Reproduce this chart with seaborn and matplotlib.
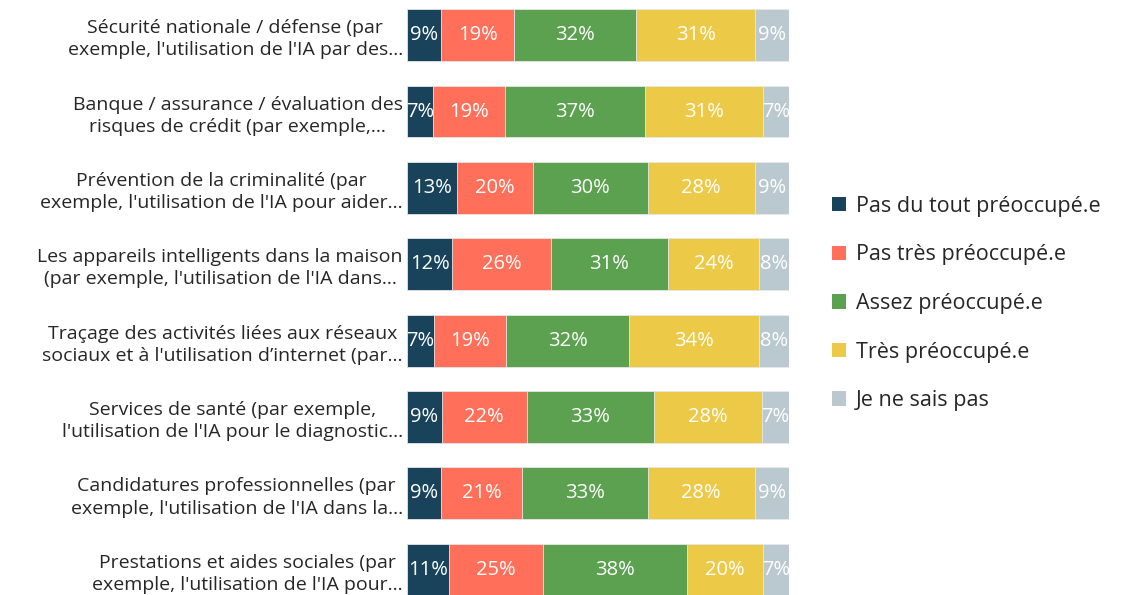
import numpy as np
import pandas as pd
import matplotlib.pyplot as plt
import seaborn as sns
from matplotlib.patches import Patch

categories = [
    "Sécurité nationale / défense (par\nexemple, l'utilisation de l'IA par des...",
    "Banque / assurance / évaluation des\nrisques de crédit (par exemple,...",
    "Prévention de la criminalité (par\nexemple, l'utilisation de l'IA pour aider...",
    "Les appareils intelligents dans la maison\n(par exemple, l'utilisation de l'IA dans...",
    "Traçage des activités liées aux réseaux\nsociaux et à l'utilisation d’internet (par...",
    "Services de santé (par exemple,\nl'utilisation de l'IA pour le diagnostic...",
    "Candidatures professionnelles (par\nexemple, l'utilisation de l'IA dans la...",
    "Prestations et aides sociales (par\nexemple, l'utilisation de l'IA pour...",
]

series = [
    "Pas du tout préoccupé.e",
    "Pas très préoccupé.e",
    "Assez préoccupé.e",
    "Très préoccupé.e",
    "Je ne sais pas",
]

pas_du_tout = [9, 7, 13, 12, 7, 9, 9, 11]
pas_tres = [19, 19, 20, 26, 19, 22, 21, 25]
assez = [32, 37, 30, 31, 32, 33, 33, 38]
tres = [31, 31, 28, 24, 34, 28, 28, 20]
ne_sais_pas = [9, 7, 9, 8, 8, 7, 9, 7]

colors = ["#18435a", "#ff6f59", "#5ba150", "#edc948", "#bac8d0"]

FONT = ["Open Sans", "DejaVu Sans"]


def main():
    sns.set_theme(style="white")
    plt.rcParams["font.family"] = FONT

    values = np.array([pas_du_tout, pas_tres, assez, tres, ne_sais_pas], dtype=float)
    # bars all end at the same place in the source, so scale each row to 100
    shares = values / values.sum(axis=0) * 100
    cum = np.cumsum(shares, axis=0)

    fig = plt.figure(figsize=(11.21, 5.95), dpi=100)
    ax = fig.add_axes([0.363, 0.0, 0.341, 1.0])

    # draw cumulative totals from the outside in so each layer sits on top
    for i in reversed(range(len(series))):
        df = pd.DataFrame({"cat": categories, "val": cum[i]})
        sns.barplot(data=df, x="val", y="cat", color=colors[i], width=0.68,
                    saturation=1, ax=ax, orient="h", linewidth=0.6,
                    edgecolor="#e8e8e8")

    for i in range(len(series)):
        starts = cum[i] - shares[i]
        for j in range(len(categories)):
            ax.text(starts[j] + shares[i][j] / 2, j, f"{int(values[i][j])}%",
                    ha="center", va="center", color="white", fontsize=14.5)

    ax.set_xlim(0, 100)
    ax.set_ylim(7.33, -0.46)
    ax.set_xlabel("")
    ax.set_ylabel("")
    ax.set_xticks([])
    ax.tick_params(axis="y", length=0, pad=3, labelsize=14)
    for label in ax.get_yticklabels():
        label.set_multialignment("center")
        label.set_linespacing(1.3)
    sns.despine(ax=ax, left=True, bottom=True)

    handles = [Patch(facecolor=c, edgecolor="none") for c in colors]
    fig.legend(handles, series, loc="center left", bbox_to_anchor=(0.725, 0.49),
               frameon=False, fontsize=15.5, labelspacing=1.28, handlelength=0.65,
               handleheight=0.65, handletextpad=0.45)

    fig.savefig("out.png", dpi=100)


if __name__ == "__main__":
    main()
